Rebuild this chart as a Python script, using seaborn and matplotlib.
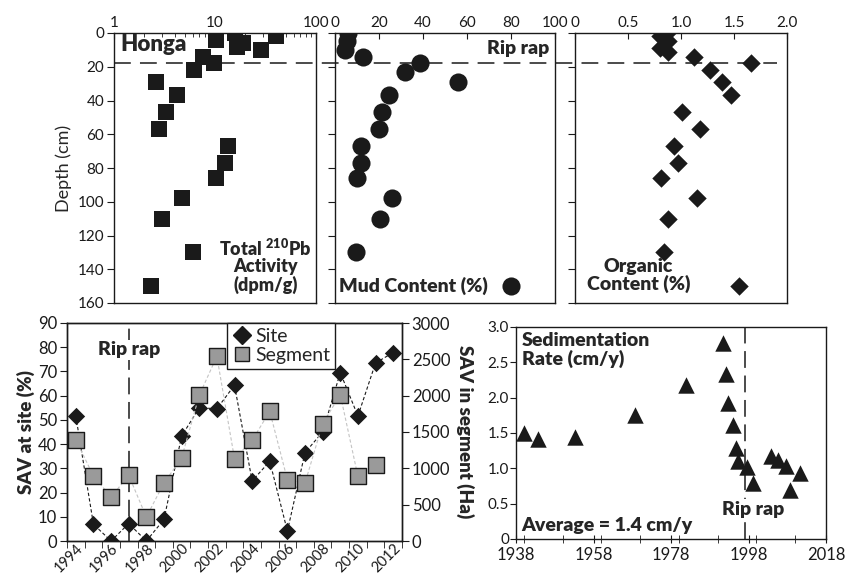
import matplotlib
matplotlib.use('Agg')
import matplotlib.pyplot as plt
import seaborn as sns
import numpy as np
import pandas as pd
from matplotlib.ticker import FuncFormatter, MultipleLocator

sns.set_style('ticks')
plt.rcParams['font.family'] = ['Lato', 'DejaVu Sans']
plt.rcParams['mathtext.fontset'] = 'custom'
plt.rcParams['mathtext.rm'] = 'Lato'
plt.rcParams['mathtext.bf'] = 'Lato:heavy'
plt.rcParams['axes.edgecolor'] = '#1a1a1a'
plt.rcParams['axes.linewidth'] = 1.0
plt.rcParams['xtick.color'] = '#1a1a1a'
plt.rcParams['ytick.color'] = '#1a1a1a'

INK = '#1a1a1a'
BOLD = 'heavy'

# core profiles, depth in cm
pb_depth = [0, 4, 6, 8, 2, 10, 14, 18, 22, 29, 37, 47, 57, 67, 77, 86, 98, 110, 130, 150]
pb_activity = [15.8, 10.2, 19.1, 16.4, 40.2, 28.3, 7.55, 9.8, 6.2, 2.6, 4.2, 3.3, 2.8,
               13.6, 12.7, 10.2, 4.7, 3.0, 6.1, 2.3]

mud_depth = [0, 5, 10, 14, 18, 23, 29, 37, 47, 57, 67, 77, 86, 98, 110, 130, 150]
mud_pct = [6.1, 5.3, 4.5, 12.9, 38.6, 31.8, 56, 24.7, 21.2, 20.2, 11.7, 11.7, 9.8,
           25.8, 20.5, 9.5, 80]

org_depth = [0, 2, 5, 9, 11, 14, 18, 22, 29, 37, 47, 57, 67, 77, 86, 98, 110, 130, 150]
org_pct = [0.87, 0.80, 0.88, 0.80, 0.88, 1.12, 1.66, 1.27, 1.39, 1.47, 1.01, 1.18,
           0.93, 0.97, 0.81, 1.15, 0.88, 0.84, 1.55]

riprap_depth = 17.5

# SAV cover
years = list(range(1994, 2013))
sav_site = [51.6, 6.9, 0, 7.2, 0, 8.9, 43.3, 55, 54.6, 64.3, 24.8, 32.9, 4.1, 36.5,
            45, 69.5, 51.6, 73.5, 77.8]
sav_segment = [1394, 894, 605, 904, 330, 798, 1142, 2005, 2541, 1133, 1385, 1784,
               844, 798, 1615, 2014, 890, 1041, np.nan]
riprap_year = 1997

# sedimentation rate
sed_year = [1940.1, 1943.8, 1953.2, 1968.7, 1981.9, 1991.5, 1992.1, 1992.8, 1994.1,
            1994.7, 1995.2, 1997.7, 1999.2, 2003.8, 2005.7, 2007.8, 2008.7, 2011.3]
sed_rate = [1.5, 1.42, 1.45, 1.76, 2.18, 2.78, 2.33, 1.92, 1.62, 1.29, 1.11, 1.02,
            0.79, 1.17, 1.12, 1.03, 0.69, 0.93]

fig = plt.figure(figsize=(8.56, 5.77), dpi=100)
fig.patch.set_facecolor('white')

W, H = 856, 577
def rect(l, r, t, b):
    return [l / W, 1 - b / H, (r - l) / W, (b - t) / H]

ax1 = fig.add_axes(rect(114, 316, 33, 303))
ax2 = fig.add_axes(rect(335, 555, 33, 303))
ax3 = fig.add_axes(rect(575, 787, 33, 303))
ax4 = fig.add_axes(rect(67, 402, 323, 541))
ax6 = fig.add_axes(rect(516, 826, 327, 539))

# ---- top row ----
sns.scatterplot(x=pb_activity, y=pb_depth, ax=ax1, marker='s', s=130, color=INK,
                linewidth=0)
sns.scatterplot(x=mud_pct, y=mud_depth, ax=ax2, marker='o', s=170, color=INK,
                linewidth=0)
sns.scatterplot(x=org_pct, y=org_depth, ax=ax3, marker='D', s=88, color=INK,
                linewidth=0)

ax1.set_xscale('log')
ax1.set_xlim(1, 100)
ax1.set_xticks([1, 10, 100])
ax1.set_xticklabels(['1', '10', '100'])
ax2.set_xlim(0, 100)
ax2.set_xticks([0, 20, 40, 60, 80, 100])
ax3.set_xlim(0, 2.0)
ax3.set_xticks([0, 0.5, 1.0, 1.5, 2.0])
ax3.xaxis.set_major_formatter(FuncFormatter(lambda v, p: '0' if v == 0 else f'{v:.1f}'))

for ax in (ax1, ax2, ax3):
    ax.set_ylim(160, 0)
    ax.set_yticks(range(0, 161, 20))
    ax.xaxis.tick_top()
    ax.tick_params(axis='x', which='both', direction='in', length=4, labelsize=11, pad=2)
    ax.tick_params(axis='x', which='minor', length=3)
    ax.tick_params(axis='y', direction='out', length=5, labelsize=11, pad=2)
    for s in ax.spines.values():
        s.set_visible(True)
    ax.set_xlabel('')
ax2.set_facecolor('none')
ax3.set_facecolor('none')
ax2.set_yticklabels([])
ax3.set_yticklabels([])
ax1.set_ylabel('Depth (cm)', fontsize=13, labelpad=4)

ax1.axhline(riprap_depth, xmin=0, xmax=(777 - 114) / 202, clip_on=False, color=INK,
            lw=1.1, dashes=(11, 6), zorder=1)

ax1.text(0.03, 0.995, 'Honga', transform=ax1.transAxes, fontsize=16,
         fontweight=BOLD, ha='left', va='top')
ax1.text(0.75, 0.035, 'Total $^{\\mathbf{210}}$Pb\nActivity\n(dpm/g)',
         transform=ax1.transAxes, fontsize=13, fontweight=BOLD, ha='center',
         va='bottom', multialignment='center', linespacing=1.0)
ax2.text(0.975, 0.975, 'Rip rap', transform=ax2.transAxes, fontsize=14,
         fontweight=BOLD, ha='right', va='top')
ax2.text(0.02, 150, 'Mud Content (%)', transform=ax2.get_yaxis_transform(),
         fontsize=14, fontweight=BOLD, ha='left', va='center')
ax3.text(0.3, 154, 'Organic\nContent (%)', transform=ax3.get_yaxis_transform(),
         fontsize=14, fontweight=BOLD, ha='center', va='bottom',
         multialignment='center', linespacing=0.95)

# ---- SAV panel ----
sav = pd.DataFrame({'year': years, 'site': sav_site, 'segment': sav_segment})
ax5 = ax4.twinx()
sns.lineplot(data=sav, x='year', y='site', ax=ax4, color=INK, lw=0.8,
             linestyle=(0, (3, 2)), zorder=2)
sns.scatterplot(data=sav, x='year', y='site', ax=ax4, marker='D', s=78, color=INK,
                linewidth=0, zorder=3)
seg = sav.dropna()
sns.lineplot(data=seg, x='year', y='segment', ax=ax5, color='#c4c4c4', lw=0.8,
             linestyle=(0, (3, 2)), zorder=2)
sns.scatterplot(data=seg, x='year', y='segment', ax=ax5, marker='s', s=120,
                color='#9a9a9a', edgecolor=INK, linewidth=1.0, zorder=3)

ax4.set_xlim(1993.5, 2012.5)
ax4.set_ylim(0, 90)
ax5.set_ylim(0, 3000)
ax4.set_yticks(range(0, 91, 10))
ax5.set_yticks(range(0, 3001, 500))
ax4.set_xticks(years[::2])
ax4.set_xticks(np.arange(1993.5, 2013, 1), minor=True)
ax4.tick_params(axis='x', which='major', length=0, labelsize=10.5, rotation=45, pad=0)
ax4.tick_params(axis='x', which='minor', direction='out', length=5)
for lbl in ax4.get_xticklabels():
    lbl.set_ha('right')
    lbl.set_rotation_mode('anchor')
ax4.tick_params(axis='y', direction='out', length=5, labelsize=12, pad=2)
ax5.tick_params(axis='y', direction='out', length=5, labelsize=12, pad=2)
ax4.set_xlabel('')
ax4.set_ylabel('SAV at site (%)', fontsize=13.5, fontweight=BOLD, labelpad=2)
ax5.set_ylabel('SAV in segment (Ha)', fontsize=13.5, fontweight=BOLD, rotation=270)
ax5.yaxis.set_label_coords(1.215, 0.5)
for s in ax5.spines.values():
    s.set_visible(True)

ax4.axvline(riprap_year, color=INK, lw=1.1, dashes=(11, 5), zorder=1)
ax4.text(riprap_year, 79, 'Rip rap', fontsize=14, fontweight=BOLD, ha='center',
         va='center', bbox=dict(facecolor='white', edgecolor='none', pad=1), zorder=2)

h1 = [plt.Line2D([], [], marker='D', ls='none', color=INK, markersize=9)]
h2 = [plt.Line2D([], [], marker='s', ls='none', markerfacecolor='#9a9a9a',
                 markeredgecolor=INK, markersize=10.5)]
leg = ax5.legend(h1 + h2, ['Site', 'Segment'], loc='upper left',
                 bbox_to_anchor=(0.478, 1.0), borderaxespad=0, fontsize=14,
                 fancybox=False, framealpha=1, edgecolor=INK, handletextpad=0.2,
                 handlelength=1.0, borderpad=0.25, labelspacing=0.1)
leg.get_frame().set_linewidth(1.0)

# ---- sedimentation rate ----
sns.scatterplot(x=sed_year, y=sed_rate, ax=ax6, marker='^', s=140, color=INK,
                linewidth=0)
ax6.set_xlim(1938, 2018)
ax6.set_ylim(0, 3.0)
ax6.set_xticks(range(1938, 2019, 20))
ax6.xaxis.set_minor_locator(MultipleLocator(10))
ax6.set_yticks(np.arange(0, 3.01, 0.5))
ax6.yaxis.set_major_formatter(FuncFormatter(lambda v, p: '0' if v == 0 else f'{v:.1f}'))
ax6.tick_params(axis='x', which='both', direction='inout', length=6, labelsize=12, pad=3)
ax6.tick_params(axis='y', direction='out', length=4, labelsize=11, pad=1)
for s in ax6.spines.values():
    s.set_visible(True)
ax6.axvline(riprap_year, color=INK, lw=1.1, dashes=(11, 5), zorder=1)
ax6.text(riprap_year + 2.2, 0.42, 'Rip rap', fontsize=14, fontweight=BOLD,
         ha='center', va='center',
         bbox=dict(facecolor='white', edgecolor='none', pad=1), zorder=2)
ax6.text(0.018, 0.975, 'Sedimentation\nRate (cm/y)', transform=ax6.transAxes,
         fontsize=14, fontweight=BOLD, ha='left', va='top', linespacing=1.05)
ax6.text(0.018, 0.025, 'Average = 1.4 cm/y', transform=ax6.transAxes, fontsize=14,
         fontweight=BOLD, ha='left', va='bottom')

fig.savefig('out.png', dpi=100, facecolor='white')
